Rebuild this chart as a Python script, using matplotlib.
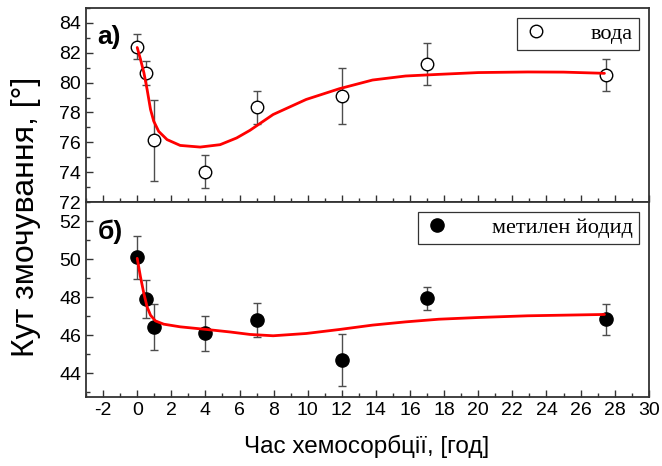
import matplotlib
matplotlib.use('Agg')
import matplotlib.pyplot as plt
from matplotlib.lines import Line2D
from matplotlib.ticker import MultipleLocator

plt.rcParams['font.family'] = ['Liberation Sans', 'DejaVu Sans']
plt.rcParams['axes.unicode_minus'] = False

# вода (кут змочування)
t_water = [0, 0.5, 1, 4, 7, 12, 17, 27.5]
theta_water = [82.4, 80.67, 76.13, 74.02, 78.35, 79.09, 81.22, 80.5]
err_water = [0.85, 0.8, 2.7, 1.1, 1.1, 1.87, 1.4, 1.08]

# крива апроксимації для води
fit_t_water = [0, 0.19, 0.39, 0.58, 0.78, 0.97, 1.26, 1.75, 2.52, 3.69, 4.86, 5.83,
               6.61, 7.97, 9.91, 11.86, 13.8, 15.74, 17.69, 20.0, 22.9, 25.0, 27.4]
fit_water = [82.35, 81.56, 80.67, 79.54, 78.2, 77.41, 76.73, 76.18, 75.79, 75.68, 75.84,
             76.29, 76.8, 77.86, 78.87, 79.59, 80.17, 80.44, 80.55, 80.67, 80.71, 80.7,
             80.62]

# метилен йодид
t_mi = [0, 0.5, 1, 4, 7, 12, 17, 27.5]
theta_mi = [50.09, 47.88, 46.44, 46.09, 46.79, 44.68, 47.93, 46.83]
err_mi = [1.13, 1.0, 1.2, 0.93, 0.91, 1.37, 0.61, 0.83]

fit_t_mi = [0, 0.19, 0.39, 0.58, 0.78, 1.07, 1.55, 2.52, 4.08, 5.44, 6.61, 7.97,
            9.91, 11.86, 13.8, 15.74, 17.69, 20.0, 22.9, 27.4]
fit_mi = [50.04, 49.07, 48.19, 47.49, 47.05, 46.75, 46.58, 46.44, 46.3, 46.17, 46.04,
          45.97, 46.09, 46.3, 46.53, 46.7, 46.84, 46.93, 47.02, 47.09]

fig = plt.figure(figsize=(6.62, 4.66), dpi=100)
ax1 = fig.add_axes([0.130, 0.5665, 0.850, 0.4165])
ax2 = fig.add_axes([0.130, 0.148, 0.850, 0.4185])

serif = ['Liberation Serif', 'DejaVu Serif']

ax1.errorbar(t_water, theta_water, yerr=err_water, fmt='o', mfc='white', mec='black',
             mew=1, ms=9, ecolor='#4d4d4d', elinewidth=1, capsize=3, capthick=1,
             zorder=2)
ax1.plot(fit_t_water, fit_water, color='red', lw=2, zorder=3,
         solid_joinstyle='round', solid_capstyle='round')

ax2.errorbar(t_mi, theta_mi, yerr=err_mi, fmt='o', mfc='black', mec='black',
             mew=1, ms=9.5, ecolor='#4d4d4d', elinewidth=1, capsize=3, capthick=1,
             zorder=2)
ax2.plot(fit_t_mi, fit_mi, color='red', lw=2, zorder=3,
         solid_joinstyle='round', solid_capstyle='round')

h1 = Line2D([], [], ls='none', marker='o', mfc='white', mec='black', ms=9)
h2 = Line2D([], [], ls='none', marker='o', mfc='black', mec='black', ms=9.5)

ax1.set_ylim(72, 85)
ax2.set_ylim(42.75, 53)
for ax, h, lab in ((ax1, h1, 'вода'), (ax2, h2, 'метилен йодид')):
    ax.set_xlim(-3, 30)
    ax.xaxis.set_major_locator(MultipleLocator(2))
    ax.xaxis.set_minor_locator(MultipleLocator(1))
    ax.yaxis.set_major_locator(MultipleLocator(2))
    ax.yaxis.set_minor_locator(MultipleLocator(1))
    ax.tick_params(which='both', direction='in', top=False, right=False,
                   labelsize=14, width=1, color='#333333')
    ax.tick_params(which='major', length=5)
    ax.tick_params(which='minor', length=3)
    for s in ax.spines.values():
        s.set_linewidth(1.3)
        s.set_color('#333333')
    leg = ax.legend([h], [lab], loc='upper right', prop={'family': serif, 'size': 16},
                    fancybox=False, edgecolor='#333333', framealpha=1,
                    handletextpad=1.9, borderpad=0.25, borderaxespad=0.45,
                    handlelength=1.2)
    leg.get_frame().set_linewidth(0.9)

ax1.tick_params(labelbottom=False)
ax1.set_yticks([72, 74, 76, 78, 80, 82, 84])
ax2.set_yticks([44, 46, 48, 50, 52])

ax1.text(0.02, 0.85, 'а)', transform=ax1.transAxes, fontsize=19,
         fontweight='bold', va='center', ha='left')
ax2.text(0.02, 0.846, 'б)', transform=ax2.transAxes, fontsize=19,
         fontweight='bold', va='center', ha='left')

fig.text(0.040, 0.535, 'Кут змочування, [°]', rotation=90, fontsize=23,
         va='center', ha='center')
fig.text(0.554, 0.041, 'Час хемосорбції, [год]', fontsize=17.5,
         va='center', ha='center')

fig.savefig('out.png', dpi=100)
